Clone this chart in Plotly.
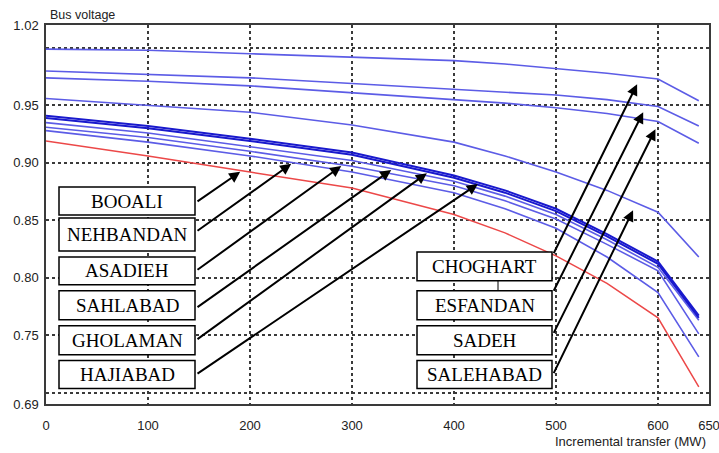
import numpy as np
import plotly.graph_objects as go

# Incremental transfer (MW) at which bus voltages were evaluated
transfer_mw = [0, 100, 200, 300, 400, 450, 500, 550, 600, 640]

# Bus voltage (p.u.) per bus
choghart = [0.999, 0.998, 0.995, 0.992, 0.989, 0.986, 0.982, 0.978, 0.973, 0.954]
esfandan = [0.980, 0.977, 0.974, 0.969, 0.964, 0.962, 0.959, 0.955, 0.949, 0.932]
sadeh = [0.974, 0.971, 0.967, 0.961, 0.955, 0.952, 0.948, 0.943, 0.936, 0.917]
salehabad = [0.956, 0.950, 0.944, 0.933, 0.918, 0.906, 0.892, 0.876, 0.857, 0.818]
hajiabad = [0.941, 0.932, 0.921, 0.909, 0.889, 0.876, 0.860, 0.838, 0.814, 0.767]
gholaman = [0.939, 0.930, 0.919, 0.907, 0.887, 0.874, 0.858, 0.836, 0.812, 0.765]
sahlabad = [0.935, 0.926, 0.914, 0.902, 0.884, 0.871, 0.855, 0.833, 0.809, 0.763]
asadieh = [0.931, 0.922, 0.910, 0.897, 0.880, 0.867, 0.851, 0.829, 0.806, 0.751]
nehbandan = [0.928, 0.918, 0.906, 0.892, 0.874, 0.860, 0.843, 0.818, 0.787, 0.731]
booali = [0.919, 0.906, 0.892, 0.878, 0.855, 0.839, 0.819, 0.795, 0.765, 0.705]

# Axis ticks
x_ticks = [0, 100, 200, 300, 400, 500, 600, 650]
y_ticks = [0.69, 0.70, 0.75, 0.80, 0.85, 0.90, 0.95, 1.00, 1.02]
y_tick_text = ["0.69", "", "0.75", "0.80", "0.85", "0.90", "0.95", "", "1.02"]

# Where each bus label's arrow lands along its curve (MW)
left_labels = ["BOOALI", "NEHBANDAN", "ASADIEH", "SAHLABAD", "GHOLAMAN", "HAJIABAD"]
left_series = [booali, nehbandan, asadieh, sahlabad, gholaman, hajiabad]
left_target_mw = [192, 242, 291, 340, 375, 425]
right_labels = ["CHOGHART", "ESFANDAN", "SADEH", "SALEHABAD"]
right_series = [choghart, esfandan, sadeh, salehabad]
right_target_mw = [583, 589, 601, 579]

# ---- layout geometry (pixels in a 719x453 canvas) ----
W, H = 719, 453
PL, PR, PT, PB = 46, 709, 24.5, 404.5
X_RANGE = [0, 650]
Y_RANGE = [0.69, 1.02]


def px_to_paper(px, py):
    return (px - PL) / (PR - PL), (PB - py) / (PB - PT)


def px_to_data(px, py):
    fx, fy = px_to_paper(px, py)
    return (X_RANGE[0] + fx * (X_RANGE[1] - X_RANGE[0]),
            Y_RANGE[0] + fy * (Y_RANGE[1] - Y_RANGE[0]))


BLUE = "rgb(92,92,230)"
DARK_BLUE = "rgb(25,25,205)"
RED = "rgb(236,72,72)"

fig = go.Figure()
line_specs = [
    (choghart, BLUE, 1.6), (esfandan, BLUE, 1.6), (sadeh, BLUE, 1.6),
    (salehabad, BLUE, 1.6), (nehbandan, BLUE, 1.6), (asadieh, BLUE, 1.6),
    (sahlabad, BLUE, 1.6), (gholaman, DARK_BLUE, 2.0), (hajiabad, DARK_BLUE, 2.0),
    (booali, RED, 1.5),
]
names = ["CHOGHART", "ESFANDAN", "SADEH", "SALEHABAD", "NEHBANDAN", "ASADIEH",
         "SAHLABAD", "GHOLAMAN", "HAJIABAD", "BOOALI"]
for name, (vals, color, width) in zip(names, line_specs):
    fig.add_trace(go.Scatter(x=transfer_mw, y=vals, mode="lines", name=name,
                             line=dict(color=color, width=width),
                             showlegend=False, hoverinfo="skip"))

grid_style = dict(showgrid=True, gridcolor="#3a3a3a", gridwidth=1.5, griddash="3px,3px")
axis_style = dict(showline=True, linecolor="#3a3a3a", linewidth=1.5, mirror=True,
                  zeroline=False, ticks="", automargin=False,
                  ticklabeloverflow="allow",
                  tickfont=dict(family="Liberation Sans", size=13, color="#222222"))

fig.update_xaxes(range=X_RANGE, tickmode="array", tickvals=x_ticks,
                 ticktext=[str(v) for v in x_ticks], ticklabelstandoff=9,
                 **grid_style, **axis_style)
fig.update_yaxes(range=Y_RANGE, tickmode="array", tickvals=y_ticks,
                 ticktext=y_tick_text, ticklabelstandoff=3,
                 **grid_style, **axis_style)

shapes = []
annotations = []

# Label boxes in pixels: (left, top, right, bottom); tail = fraction from top
left_boxes = [(59, 187, 195, 215), (59, 218, 195, 251), (59, 257, 195, 285),
              (59, 291, 195, 320), (59, 326, 195, 355), (59, 361, 195, 389)]
left_tail = [0.55, 0.42, 0.5, 0.6, 0.5, 0.5]
right_boxes = [(417, 252, 552, 281), (417, 291, 552, 320),
               (417, 326, 552, 355), (417, 361, 552, 389)]
right_tail = [0.1, 0.05, 0.3, 0.5]

label_font = dict(family="Liberation Serif, Times New Roman, serif", size=19, color="black")


def add_label(text, box, tail_frac, series, target_mw, standoff):
    x0, y0, x1, y1 = box
    px0, py0 = px_to_paper(x0, y1)
    px1, py1 = px_to_paper(x1, y0)
    shapes.append(dict(type="rect", xref="paper", yref="paper", x0=px0, y0=py0,
                       x1=px1, y1=py1, line=dict(color="black", width=1.5),
                       fillcolor="white", layer="above"))
    cx, cy = px_to_paper((x0 + x1) / 2, (y0 + y1) / 2)
    annotations.append(dict(xref="paper", yref="paper", x=cx, y=cy, text=text,
                            showarrow=False, xanchor="center", yanchor="middle",
                            font=label_font))
    tail_x, tail_y = px_to_data(x1 + 1, y0 + tail_frac * (y1 - y0))
    tip_y = float(np.interp(target_mw, transfer_mw, series))
    annotations.append(dict(x=target_mw, y=tip_y, xref="x", yref="y",
                            ax=tail_x, ay=tail_y, axref="x", ayref="y",
                            text="", showarrow=True, arrowhead=2, arrowsize=1.1,
                            arrowwidth=2, arrowcolor="black", standoff=standoff))


for lab, box, tf, ser, tgt in zip(left_labels, left_boxes, left_tail, left_series, left_target_mw):
    add_label(lab, box, tf, ser, tgt, 2)
for lab, box, tf, ser, tgt in zip(right_labels, right_boxes, right_tail, right_series, right_target_mw):
    add_label(lab, box, tf, ser, tgt, 8)

# small connector between the CHOGHART and ESFANDAN boxes
cx0, cy0 = px_to_paper(498, 281)
cx1, cy1 = px_to_paper(498, 291)
shapes.append(dict(type="line", xref="paper", yref="paper", x0=cx0, y0=cy0,
                   x1=cx1, y1=cy1, line=dict(color="black", width=1), layer="above"))

# axis titles
tx, ty = px_to_paper(48, 14)
annotations.append(dict(xref="paper", yref="paper", x=tx, y=ty, text="Bus voltage",
                        showarrow=False, xanchor="left", yanchor="middle",
                        font=dict(family="Liberation Sans", size=12.5, color="#222222")))
tx, ty = px_to_paper(708, 442)
annotations.append(dict(xref="paper", yref="paper", x=tx, y=ty,
                        text="Incremental transfer (MW)",
                        showarrow=False, xanchor="right", yanchor="middle",
                        font=dict(family="Liberation Sans", size=13, color="#222222")))

fig.update_layout(
    width=W, height=H,
    margin=dict(l=PL, r=W - PR, t=PT, b=H - PB),
    paper_bgcolor="white", plot_bgcolor="white",
    shapes=shapes, annotations=annotations,
    showlegend=False,
)

fig.write_html("out.html")
